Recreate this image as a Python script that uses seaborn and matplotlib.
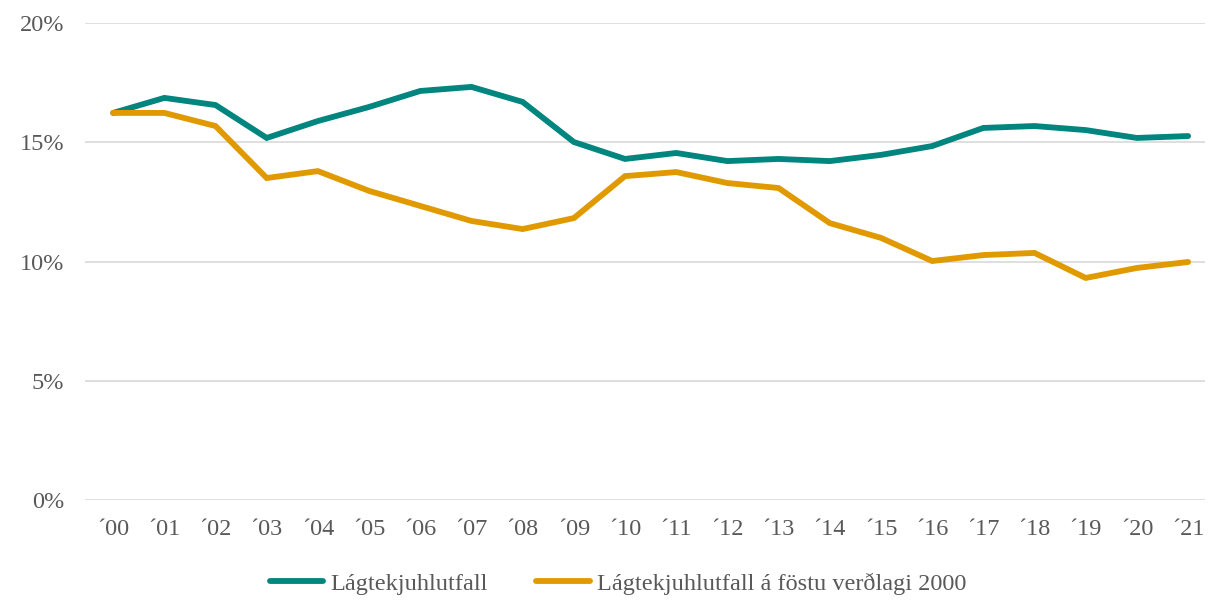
import pandas as pd
import seaborn as sns
import matplotlib.pyplot as plt
from matplotlib.ticker import FuncFormatter

# Year labels and the two series (percent)
years = ['´00', '´01', '´02', '´03', '´04', '´05', '´06', '´07', '´08', '´09', '´10',
         '´11', '´12', '´13', '´14', '´15', '´16', '´17', '´18', '´19', '´20', '´21']
lagtekju = [16.23, 16.86, 16.56, 15.18, 15.89, 16.48, 17.15, 17.32, 16.69, 15.01, 14.30,
            14.55, 14.21, 14.30, 14.21, 14.47, 14.84, 15.60, 15.68, 15.51, 15.18, 15.26]
fast_verdlag = [16.23, 16.23, 15.68, 13.50, 13.79, 12.96, 12.33, 11.70, 11.36, 11.82, 13.58,
                13.75, 13.29, 13.08, 11.61, 10.99, 10.02, 10.27, 10.36, 9.31, 9.73, 9.98]
series_names = ['Lágtekjuhlutfall', 'Lágtekjuhlutfall á föstu verðlagi 2000']
colors = ['#00857F', '#E09A00']

text_color = '#595959'

def build_frame():
    # Long format so seaborn can split by hue
    df = pd.DataFrame({'x': list(range(len(years))) * 2,
                       'value': lagtekju + fast_verdlag,
                       'series': [series_names[0]] * len(years) + [series_names[1]] * len(years)})
    return df


if __name__ == "__main__":
    sns.set_theme(style='white')
    plt.rcParams['font.family'] = ['Liberation Serif', 'DejaVu Serif']

    fig = plt.figure(figsize=(12.11, 6.03), dpi=100)
    ax = fig.add_axes([85 / 1211, 1 - 500 / 603, (1205 - 85) / 1211, (500 - 23) / 603])

    df = build_frame()
    sns.lineplot(data=df, x='x', y='value', hue='series', palette=colors,
                 linewidth=4.2, ax=ax, solid_capstyle='round', solid_joinstyle='miter')

    ax.set_ylim(0, 20)
    ax.set_xlim(-0.55, 21.33)
    ax.set_yticks([0, 5, 10, 15, 20])
    ax.yaxis.set_major_formatter(FuncFormatter(lambda v, p: f'{int(v)}%'))
    ax.set_xticks(range(len(years)))
    ax.set_xticklabels(years)
    ax.grid(axis='y', color='#D9D9D9', linewidth=1.2)
    ax.set_axisbelow(True)
    for s in ax.spines.values():
        s.set_visible(False)
    ax.tick_params(axis='both', length=0, labelsize=17.5, labelcolor=text_color)
    ax.tick_params(axis='y', pad=15)
    ax.tick_params(axis='x', pad=14)
    ax.set_xlabel('')
    ax.set_ylabel('')

    handles, labels = ax.get_legend_handles_labels()
    for h in handles:
        h.set_linewidth(4.2)
    ax.legend(handles, labels, loc='center', bbox_to_anchor=(0.476, -0.175), ncol=2,
              frameon=False, fontsize=17.5, labelcolor=text_color, handlelength=2.2,
              handletextpad=0.3, columnspacing=2.0)

    fig.savefig('out.png', dpi=100)
